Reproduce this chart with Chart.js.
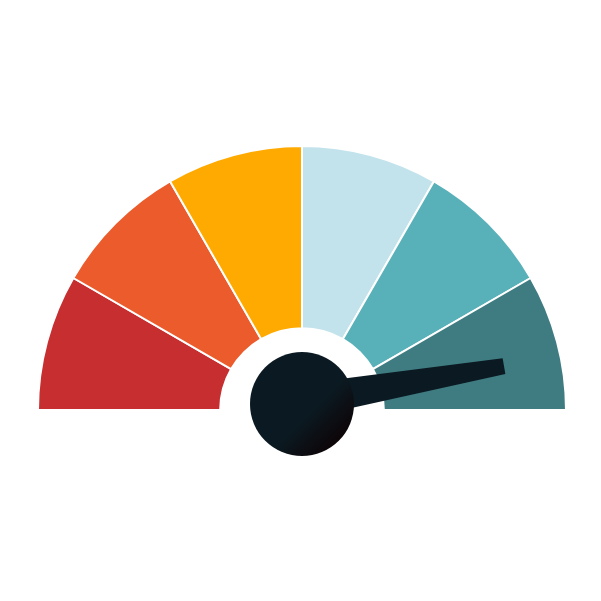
<!DOCTYPE html>
<html>
<head>
<meta charset="utf-8">
<title>Gauge</title>
<script src="https://cdn.jsdelivr.net/npm/chart.js@4/dist/chart.umd.min.js"></script>
<style>
  html, body { margin: 0; background: #fff; }
  canvas { display: block; }
</style>
</head>
<body>
<canvas id="gauge" width="601" height="601"></canvas>
<script>
const segments = ["1", "2", "3", "4", "5", "6"];
const segmentValues = [30, 30, 30, 30, 30, 30];
const segmentColors = ["#c62e2f", "#ec5b2b", "#ffaa00", "#c2e3ec", "#58b1b9", "#3f7c82"];
// Needle reading, on the same 0-180 scale as the segments
const needleValue = [170.2];

// Needle and hub sit on top of the doughnut
const needlePlugin = {
    id: "needle",
    afterDatasetsDraw(chart) {
        const ctx = chart.ctx;
        const arc = chart.getDatasetMeta(0).data[0];
        const total = segmentValues.reduce((a, b) => a + b, 0);
        const angle = Math.PI * (1 - needleValue[0] / total);
        const hubX = arc.x;
        const hubY = arc.y - 6;

        ctx.save();
        ctx.translate(hubX, hubY - 3);
        ctx.rotate(-angle);
        ctx.fillStyle = "#0b1a22";
        ctx.beginPath();
        ctx.moveTo(0, -17);
        ctx.lineTo(205, -8);
        ctx.lineTo(205, 8);
        ctx.lineTo(0, 17.5);
        ctx.closePath();
        ctx.fill();
        ctx.restore();

        const grad = ctx.createLinearGradient(hubX - 37, hubY - 37, hubX + 37, hubY + 37);
        grad.addColorStop(0, "#0b1a22");
        grad.addColorStop(0.6, "#0b1a22");
        grad.addColorStop(1, "#0d0508");
        ctx.fillStyle = grad;
        ctx.beginPath();
        ctx.arc(hubX, hubY, 52, 0, Math.PI * 2);
        ctx.fill();
    },
};

new Chart("gauge", {
    type: "doughnut",
    data: {
        labels: segments,
        datasets: [{
            data: segmentValues,
            backgroundColor: segmentColors,
            borderColor: "#ffffff",
            borderWidth: 2,
        }],
    },
    options: {
        responsive: false,
        animation: false,
        rotation: -90,
        circumference: 180,
        cutout: "31%",
        layout: {
            padding: { left: 36, right: 33, top: 145, bottom: 190 },
        },
        plugins: {
            legend: { display: false },
            tooltip: { enabled: false },
        },
    },
    plugins: [needlePlugin],
});
</script>
</body>
</html>
